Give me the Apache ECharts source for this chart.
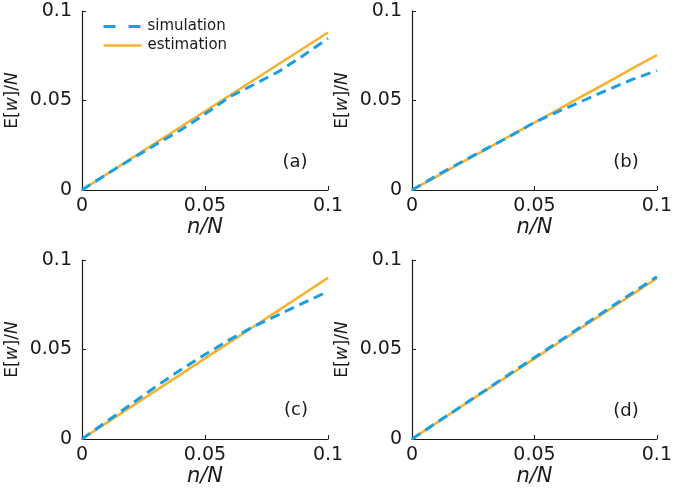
<!DOCTYPE html>
<html>
<head>
<meta charset="utf-8">
<script src="https://cdn.jsdelivr.net/npm/echarts@6/dist/echarts.min.js"></script>
<style>
html,body{margin:0;padding:0;background:#fff;}
#chart{width:675px;height:489px;}
</style>
</head>
<body>
<div id="chart"></div>
<script>
// ---- data ----
var xValues = [0, 0.01, 0.02, 0.03, 0.04, 0.05, 0.06, 0.07, 0.08, 0.09, 0.1];

var simA = [0, 0.0088, 0.0172, 0.0254, 0.0334, 0.0424, 0.0520, 0.0590, 0.0662, 0.0752, 0.0847];
var estA = [0, 0.0088, 0.0176, 0.0264, 0.0352, 0.0440, 0.0528, 0.0616, 0.0704, 0.0792, 0.0880];

var simB = [0, 0.0080, 0.0155, 0.0228, 0.0300, 0.0378, 0.0440, 0.0500, 0.0560, 0.0618, 0.0667];
var estB = [0, 0.0075, 0.0151, 0.0226, 0.0302, 0.0377, 0.0452, 0.0528, 0.0603, 0.0679, 0.0754];

var simC = [0, 0.0098, 0.0195, 0.0293, 0.0385, 0.0472, 0.0555, 0.0630, 0.0695, 0.0760, 0.0825];
var estC = [0, 0.0090, 0.0180, 0.0270, 0.0360, 0.0450, 0.0540, 0.0630, 0.0720, 0.0810, 0.0900];

var simD = [0, 0.0091, 0.0182, 0.0273, 0.0364, 0.0455, 0.0545, 0.0635, 0.0726, 0.0816, 0.0907];
var estD = [0, 0.0090, 0.0180, 0.0270, 0.0359, 0.0449, 0.0539, 0.0629, 0.0718, 0.0808, 0.0898];

var panelLabels = ['(a)', '(b)', '(c)', '(d)'];
var seriesNames = ['simulation', 'estimation'];
var xAxisName = 'n/N';

// ---- styling ----
var BLUE = '#1c9fe0';
var ORANGE = '#f7b232';
var TXT = '#1a1a1a';
var FONT = '"DejaVu Sans", Arial, sans-serif';

var grids = [
  {left: 82, top: 11, width: 246, height: 179},
  {left: 412, top: 11, width: 245, height: 179},
  {left: 82, top: 260, width: 246, height: 179},
  {left: 412, top: 260, width: 245, height: 179}
];
var sims = [simA, simB, simC, simD];
var ests = [estA, estB, estC, estD];

function pairs(ys) { return xValues.map(function (x, i) { return [x, ys[i]]; }); }

var xAxes = [], yAxes = [], series = [];
grids.forEach(function (g, i) {
  xAxes.push({
    type: 'value', gridIndex: i, min: 0, max: 0.1, interval: 0.05,
    name: xAxisName, nameLocation: 'middle', nameGap: 24,
    nameTextStyle: {fontFamily: FONT, fontSize: 21, fontStyle: 'italic', color: TXT},
    axisLine: {show: true, lineStyle: {color: TXT, width: 1.2}},
    axisTick: {show: true, inside: true, length: 4, lineStyle: {color: TXT}},
    axisLabel: {fontFamily: FONT, fontSize: 19, color: TXT, margin: 7,
      formatter: function (v) { return String(v); }},
    splitLine: {show: false}
  });
  yAxes.push({
    type: 'value', gridIndex: i, min: 0, max: 0.1, interval: 0.05,
    name: '{r|E[}{i|w}{r|]/}{i|N}', nameLocation: 'middle', nameGap: 61,
    nameTextStyle: {fontFamily: FONT, fontSize: 17, color: TXT,
      rich: {
        r: {fontFamily: FONT, fontSize: 17, color: TXT},
        i: {fontFamily: FONT, fontSize: 17, color: TXT, fontStyle: 'italic'}
      }},
    axisLine: {show: true, lineStyle: {color: TXT, width: 1.2}},
    axisTick: {show: true, inside: true, length: 4, lineStyle: {color: TXT}},
    axisLabel: {fontFamily: FONT, fontSize: 19, color: TXT, margin: 10,
      formatter: function (v) { return String(v); }},
    splitLine: {show: false}
  });
  series.push({
    name: seriesNames[1], type: 'line', xAxisIndex: i, yAxisIndex: i,
    data: pairs(ests[i]), symbol: 'none', showSymbol: false, silent: true, animation: false,
    lineStyle: {color: ORANGE, width: 2.6}, itemStyle: {color: ORANGE}, z: 2
  });
  series.push({
    name: seriesNames[0], type: 'line', xAxisIndex: i, yAxisIndex: i,
    data: pairs(sims[i]), symbol: 'none', showSymbol: false, silent: true, animation: false,
    lineStyle: {color: BLUE, width: 3, type: [10, 6]}, itemStyle: {color: BLUE}, z: 3
  });
});

var labelPos = [[295, 162], [626, 162], [296, 410], [626, 411]];
var graphics = panelLabels.map(function (t, i) {
  return {type: 'text', x: labelPos[i][0], y: labelPos[i][1],
    style: {text: t, fontFamily: FONT, fontSize: 18, fill: TXT, align: 'center', verticalAlign: 'middle'}};
});

var chart = echarts.init(document.getElementById('chart'));
chart.setOption({
  animation: false,
  backgroundColor: '#fff',
  grid: grids,
  xAxis: xAxes,
  yAxis: yAxes,
  legend: {
    orient: 'vertical', left: 97, top: 14,
    itemWidth: 38, itemHeight: 14, itemGap: 4,
    textStyle: {fontFamily: FONT, fontSize: 15, color: TXT, padding: [0, 0, 0, 1]},
    data: [
      {name: seriesNames[0], itemStyle: {opacity: 0}, lineStyle: {type: [12, 13], width: 3, color: BLUE}},
      {name: seriesNames[1], itemStyle: {opacity: 0}, lineStyle: {width: 2.6, color: ORANGE}}
    ]
  },
  graphic: graphics,
  series: series
});
</script>
</body>
</html>
